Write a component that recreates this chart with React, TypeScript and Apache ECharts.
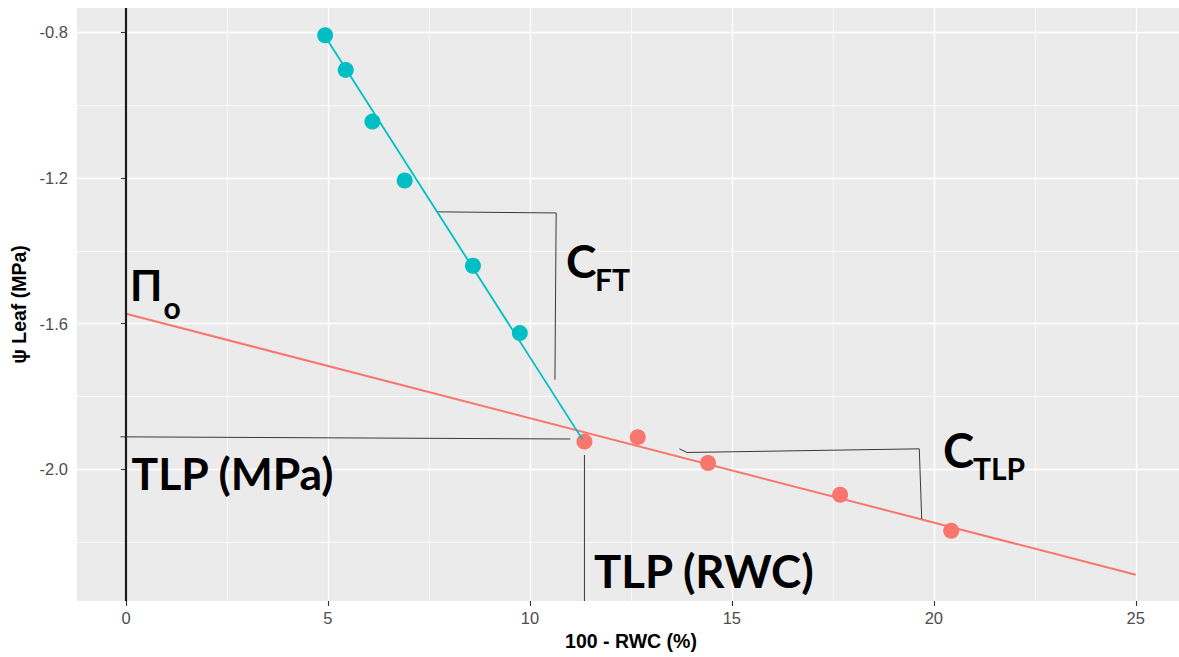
import { useEffect, useRef } from 'react';
import * as echarts from 'echarts';

// Axis tick positions
const xTicks = [0, 5, 10, 15, 20, 25];
const xMinorTicks = [2.5, 7.5, 12.5, 17.5, 22.5];
const yTicks = [-2.0, -1.6, -1.2, -0.8];
const yMinorTicks = [-2.2, -1.8, -1.4, -1.0];

// Observations: [100 - RWC (%), ψ leaf (MPa)]
const fullTurgorPoints = [
  [4.93, -0.808],
  [5.44, -0.903],
  [6.1, -1.045],
  [6.9, -1.207],
  [8.59, -1.441],
  [9.75, -1.626],
];
const turgorLossPoints = [
  [11.35, -1.924],
  [12.67, -1.912],
  [14.41, -1.983],
  [17.68, -2.07],
  [20.43, -2.169],
];

// Fitted lines
const fullTurgorFit = [
  [4.9, -0.806],
  [11.3, -1.918],
];
const turgorLossFit = [
  [0, -1.573],
  [25, -2.29],
];

// Annotation guides (data space)
const tlpPressureGuide = [
  [-0.14, -1.911],
  [11.0, -1.917],
];
const tlpRwcGuide = [
  [11.35, -1.961],
  [11.35, -2.362],
];
const cftBracket = [
  [7.7, -1.293],
  [10.65, -1.296],
  [10.62, -1.754],
];
const ctlpBracket = [
  [13.7, -1.944],
  [13.89, -1.954],
  [19.64, -1.944],
  [19.7, -2.137],
];

const X_MIN = -1.213;
const X_MAX = 26.07;
const Y_MIN = -2.362;
const Y_MAX = -0.733;

const TEAL = '#00BFC4';
const SALMON = '#F8766D';
const LABEL_FONT = '"Liberation Sans", Arial, sans-serif';
const NOTE_FONT = 'Lato, "Noto Sans", sans-serif';

// place a bold note so that its baseline sits at `baseline`
function note(text: string, x: number, baseline: number, size: number) {
  return {
    type: 'text',
    x,
    y: baseline - size * 0.36,
    silent: true,
    z: 100,
    style: {
      text,
      fill: '#000',
      fontFamily: NOTE_FONT,
      fontWeight: 'bold',
      fontSize: size,
      align: 'left',
      verticalAlign: 'middle',
    },
  };
}

function guide(data: number[][]) {
  return {
    type: 'line',
    data,
    showSymbol: false,
    symbol: 'none',
    silent: true,
    lineStyle: { color: '#3a3a3a', width: 1 },
    z: 3,
  };
}

export default function App() {
  const ref = useRef<HTMLDivElement>(null);

  useEffect(() => {
    if (!ref.current) return;
    const chart = echarts.init(ref.current, undefined, { renderer: 'svg' });

    chart.setOption({
      animation: false,
      backgroundColor: '#FFFFFF',
      grid: {
        left: 77,
        right: 0,
        top: 8,
        bottom: 56,
        show: true,
        backgroundColor: '#EBEBEB',
        borderWidth: 0,
      },
      xAxis: [
        {
          type: 'value',
          min: X_MIN,
          max: X_MAX,
          name: '100 - RWC (%)',
          nameLocation: 'middle',
          nameGap: 30,
          nameTextStyle: {
            color: '#000',
            fontWeight: 'bold',
            fontSize: 19.5,
            fontFamily: LABEL_FONT,
            padding: [0, 0, 0, 6],
          },
          axisLine: { show: false },
          axisTick: {
            show: true,
            length: 5,
            customValues: xTicks,
            lineStyle: { color: '#333333', width: 1.1 },
          },
          axisLabel: {
            customValues: xTicks,
            color: '#4D4D4D',
            fontSize: 16.5,
            fontFamily: LABEL_FONT,
            margin: 8,
          },
          splitLine: { show: true, lineStyle: { color: '#FFFFFF', width: 1.4 } },
        },
        {
          type: 'value',
          min: X_MIN,
          max: X_MAX,
          position: 'top',
          axisLine: { show: false },
          axisTick: { show: false, customValues: xMinorTicks },
          axisLabel: { show: false },
          splitLine: { show: true, lineStyle: { color: '#FFFFFF', width: 0.7 } },
        },
      ],
      yAxis: [
        {
          type: 'value',
          min: Y_MIN,
          max: Y_MAX,
          name: 'ψ Leaf (MPa)',
          nameLocation: 'middle',
          nameGap: 47,
          nameTextStyle: {
            color: '#000',
            fontWeight: 'bold',
            fontSize: 19.5,
            fontFamily: LABEL_FONT,
          },
          axisLine: { show: false },
          axisTick: {
            show: true,
            length: 5,
            customValues: yTicks,
            lineStyle: { color: '#333333', width: 1.1 },
          },
          axisLabel: {
            customValues: yTicks,
            color: '#4D4D4D',
            fontSize: 16.5,
            fontFamily: LABEL_FONT,
            margin: 9,
            formatter: (v: number) => v.toFixed(1),
          },
          splitLine: { show: true, lineStyle: { color: '#FFFFFF', width: 1.4 } },
        },
        {
          type: 'value',
          min: Y_MIN,
          max: Y_MAX,
          position: 'right',
          axisLine: { show: false },
          axisTick: { show: false, customValues: yMinorTicks },
          axisLabel: { show: false },
          splitLine: { show: true, lineStyle: { color: '#FFFFFF', width: 0.7 } },
        },
      ],
      series: [
        {
          // x = 0 reference line
          type: 'line',
          data: [],
          silent: true,
          markLine: {
            silent: true,
            symbol: 'none',
            label: { show: false },
            lineStyle: { color: '#1A1A1A', width: 2.2, type: 'solid' },
            data: [{ xAxis: 0 }],
          },
        },
        {
          type: 'line',
          data: turgorLossFit,
          symbol: 'none',
          silent: true,
          lineStyle: { color: SALMON, width: 2 },
          z: 2,
        },
        guide(tlpPressureGuide),
        guide(tlpRwcGuide),
        guide(cftBracket),
        guide(ctlpBracket),
        {
          type: 'scatter',
          data: turgorLossPoints,
          symbolSize: 16,
          itemStyle: { color: SALMON, opacity: 1 },
          z: 4,
        },
        {
          type: 'line',
          data: fullTurgorFit,
          symbol: 'none',
          silent: true,
          lineStyle: { color: TEAL, width: 1.8 },
          z: 5,
        },
        {
          type: 'scatter',
          data: fullTurgorPoints,
          symbolSize: 16,
          itemStyle: { color: TEAL, opacity: 1 },
          z: 6,
        },
      ],
      graphic: [
        note('Π', 130, 300, 42),
        note('o', 163.5, 317.5, 30),
        note('TLP (MPa)', 131.5, 488.3, 44.5),
        note('TLP (RWC)', 594, 586.7, 45.5),
        note('C', 566, 277.5, 46),
        note('FT', 595, 289.3, 30),
        note('C', 943, 466.5, 47),
        note('TLP', 973, 478.7, 30),
      ],
    });

    return () => chart.dispose();
  }, []);

  return (
    <div
      ref={ref}
      style={{ position: 'absolute', left: 0, top: 0, width: 1179, height: 657 }}
    />
  );
}
